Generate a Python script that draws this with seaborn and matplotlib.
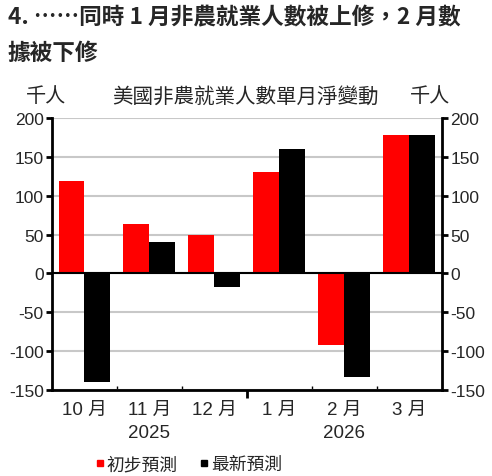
import matplotlib
matplotlib.use("Agg")
import matplotlib.pyplot as plt
from matplotlib.lines import Line2D
import seaborn as sns
import pandas as pd

months = ["10 月", "11 月", "12 月", "1 月", "2 月", "3 月"]
years = ["", "2025", "", "", "2026", ""]
initial = [119, 64, 50, 130, -92, 178]
latest = [-140, 41, -17, 160, -133, 178]
series_names = ["初步預測", "最新預測"]
colors = ["#ff0000", "#000000"]
yticks = [200, 150, 100, 50, 0, -50, -100, -150]

sns.set_theme(style="white")
plt.rcParams["font.family"] = ["Liberation Sans", "Noto Sans CJK TC", "DejaVu Sans"]
plt.rcParams["axes.unicode_minus"] = False

df = pd.DataFrame({
    "month": months * 2,
    "value": initial + latest,
    "series": [series_names[0]] * len(months) + [series_names[1]] * len(months),
})

fig = plt.figure(figsize=(4.92, 4.77), dpi=100)
ax = fig.add_axes([0.1057, 0.1803, 0.7923, 0.5702])

sns.barplot(data=df, x="month", y="value", hue="series", order=months,
            hue_order=series_names, palette=colors, width=0.8, saturation=1,
            edgecolor="none", linewidth=0, ax=ax, legend=False)

ax.set_xlim(-0.5, len(months) - 0.5)
ax.set_ylim(-150, 200)
ax.set_yticks(yticks)
ax.yaxis.grid(True, color="#c8c8c8", linewidth=1.5)
ax.set_axisbelow(True)
ax.axhline(0, color="black", linewidth=1.5, zorder=5)

for s in ["left", "right", "bottom"]:
    ax.spines[s].set_visible(True)
    ax.spines[s].set_color("black")
    ax.spines[s].set_linewidth(2)
ax.spines["top"].set_visible(False)

ax.set_xlabel("")
ax.set_ylabel("")
ax.set_xticks(range(len(months)))
ax.set_xticklabels([f"{m}\n{y}" for m, y in zip(months, years)], fontsize=13.5,
                   linespacing=1.45)
ax.tick_params(axis="x", length=0, pad=8)
ax.set_xticks([0.5, 1.5, 3.5, 4.5], minor=True)
ax.tick_params(axis="x", which="minor", direction="in", length=3, width=1, color="black", bottom=True)
ax.tick_params(axis="y", direction="out", length=4, width=2, color="black",
               labelsize=12.5, pad=2, left=True)

sec = ax.secondary_xaxis("bottom")
sec.set_xticks([2.5])
sec.set_xticklabels([""])
sec.tick_params(length=6, width=2, direction="out", color="black")
sec.spines["bottom"].set_visible(False)

ax2 = ax.twinx()
ax2.set_ylim(-150, 200)
ax2.set_yticks(yticks)
ax2.tick_params(axis="y", direction="out", length=4, width=2, color="black",
                labelsize=12.5, pad=2, right=True)
for s in ax2.spines.values():
    s.set_visible(False)
ax2.grid(False)

title_fam = ["Noto Sans CJK TC", "Liberation Sans", "DejaVu Sans"]
fig.text(0.016, 0.963, "4. ……同時 1 月非農就業人數被上修，2 月數", fontsize=16.3,
         fontweight="bold", ha="left", va="center", family=title_fam)
fig.text(0.016, 0.888, "據被下修", fontsize=16.3, fontweight="bold", ha="left", va="center",
         family=title_fam)

fig.text(46 / 492, 1 - 97 / 477, "千人", fontsize=14.5, ha="center", va="center")
fig.text(245 / 492, 1 - 97 / 477, "美國非農就業人數單月淨變動", fontsize=14.8, ha="center", va="center")
fig.text(430 / 492, 1 - 97 / 477, "千人", fontsize=14.5, ha="center", va="center")

handles = [Line2D([0], [0], marker="s", linestyle="none", markersize=5,
                  markerfacecolor=c, markeredgecolor=c) for c in colors]
fig.legend(handles, series_names, loc="center", bbox_to_anchor=(0.383, 0.024),
           ncol=2, frameon=False, fontsize=12.8, handlelength=0.6,
           handletextpad=0.1, columnspacing=1.2)

fig.savefig("out.png", dpi=100)
